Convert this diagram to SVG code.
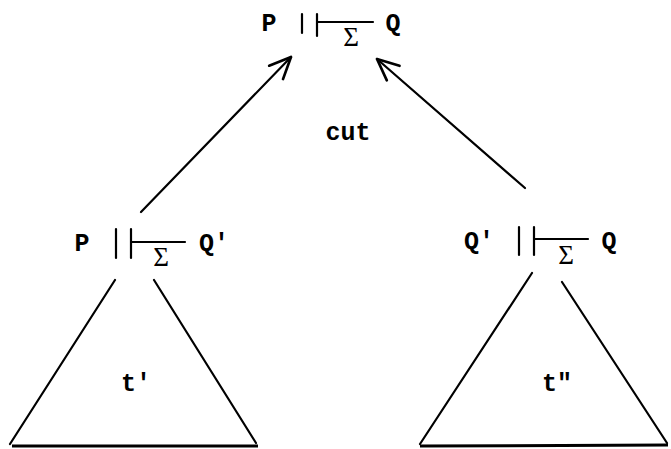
<svg xmlns="http://www.w3.org/2000/svg" width="671" height="449" viewBox="0 0 671 449">
<defs>
<style>
.t{font-family:"Liberation Mono","DejaVu Sans Mono",monospace;font-size:25px;font-weight:bold;fill:#000}
.s{font-family:"Liberation Serif","DejaVu Serif",serif;font-size:27px;fill:#000}
.l{stroke:#000;stroke-width:2.2;fill:none;stroke-linecap:round}
.b{stroke:#000;stroke-width:3;fill:none}
</style>
<marker id="ah" markerUnits="userSpaceOnUse" markerWidth="30" markerHeight="30" viewBox="-24 -12 28 24" refX="0" refY="0" orient="auto">
<path d="M-20,-9 L0,0 L-20,9" fill="none" stroke="#000" stroke-width="2.5" stroke-linecap="round" stroke-linejoin="round"/>
</marker>
</defs>
<rect width="671" height="449" fill="#fff"/>
<g id="connectors">
<line class="l" x1="141" y1="212" x2="291" y2="57" marker-end="url(#ah)"/>
<line class="l" x1="525" y1="188" x2="377" y2="59" marker-end="url(#ah)"/>
<text class="t" x="348" y="140" text-anchor="middle">cut</text>
</g>
<g id="goal">
<text class="t" x="269" y="31" text-anchor="middle">P</text>
<line class="l" x1="302" y1="14" x2="302" y2="33"/>
<line class="l" x1="317" y1="14" x2="317" y2="36"/>
<line class="l" x1="317" y1="22" x2="373" y2="22"/>
<text class="s" x="351" y="46" text-anchor="middle">Σ</text>
<text class="t" x="393" y="31" text-anchor="middle">Q</text>
</g>
<g id="left">
<text class="t" x="82" y="251" text-anchor="middle">P</text>
<line class="l" x1="116" y1="229" x2="116" y2="258"/>
<line class="l" x1="131" y1="229" x2="131" y2="258"/>
<line class="l" x1="131" y1="242" x2="185" y2="242"/>
<text class="s" x="161" y="266" text-anchor="middle">Σ</text>
<text class="t" x="199" y="251">Q'</text>
<path class="l" d="M115,280 L10,444 M154,280 L256,443"/>
<line class="b" x1="12" y1="446" x2="258" y2="446"/>
<text class="t" x="136" y="391" text-anchor="middle">t'</text>
</g>
<g id="right">
<text class="t" x="464" y="249">Q'</text>
<line class="l" x1="519" y1="227" x2="519" y2="255"/>
<line class="l" x1="534" y1="227" x2="534" y2="255"/>
<line class="l" x1="534" y1="239" x2="588" y2="239"/>
<text class="s" x="566" y="264" text-anchor="middle">Σ</text>
<text class="t" x="609" y="249" text-anchor="middle">Q</text>
<path class="l" d="M532,273 L420,444 M562,282 L667,443"/>
<line class="b" x1="420" y1="446" x2="668" y2="445"/>
<text class="t" x="557" y="391" text-anchor="middle">t"</text>
</g>
</svg>
